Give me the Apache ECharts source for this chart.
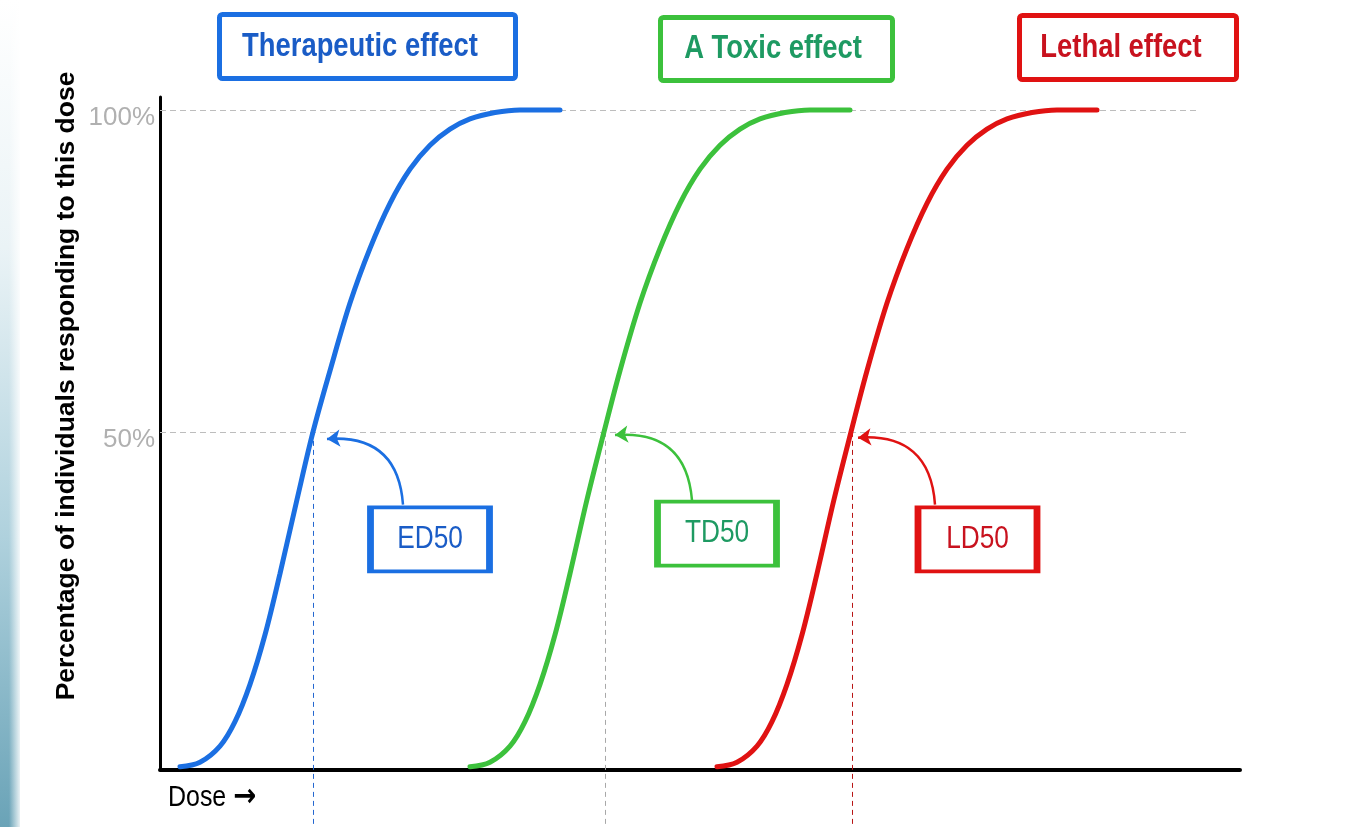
<!DOCTYPE html>
<html>
<head>
<meta charset="utf-8">
<title>Dose response curves</title>
<script src="https://cdn.jsdelivr.net/npm/echarts@6/dist/echarts.min.js"></script>
<style>
  html, body { margin: 0; padding: 0; background: #fff; }
  #chart { width: 1371px; height: 827px; }
</style>
</head>
<body>
<div id="chart"></div>
<script>
// [dose, % of individuals responding]
const therapeuticCurve = [[2.0, -2], [4.0, -1.3], [6.0, 1.2], [7.5, 5.0], [9.0, 10.8], [10.5, 18.5], [12.0, 28.0], [13.7, 39.5],
  [15.3, 50], [17.0, 59.5], [19.0, 70], [21.0, 78.5], [23.0, 85.5], [25.0, 90.8], [27.0, 94.5], [29.0, 97.0],
  [31.0, 98.6], [33.5, 99.6], [36.0, 100], [40.0, 100]]
const toxicCurve = [[31.0, -2], [33.0, -1.3], [35.0, 1.2], [36.5, 5.0], [38.0, 10.8], [39.5, 18.5], [41.0, 28.0], [42.7, 39.5],
  [44.4, 50], [46.0, 59.5], [48.0, 70], [50.0, 78.5], [52.0, 85.5], [54.0, 90.8], [56.0, 94.5], [58.0, 97.0],
  [60.0, 98.6], [62.5, 99.6], [65.0, 100], [69.0, 100]]
const lethalCurve = [[55.7, -2], [57.7, -1.3], [59.7, 1.2], [61.2, 5.0], [62.7, 10.8], [64.2, 18.5], [65.7, 28.0], [67.4, 39.5],
  [69.1, 50], [70.7, 59.5], [72.7, 70], [74.7, 78.5], [76.7, 85.5], [78.7, 90.8], [80.7, 94.5], [82.7, 97.0],
  [84.7, 98.6], [87.2, 99.6], [89.7, 100], [93.7, 100]]

const effectNames = ['Therapeutic effect', 'A Toxic effect', 'Lethal effect']
const d50Names = ['ED50', 'TD50', 'LD50']
const d50Dose = [15.3, 44.5, 69.2]
const d50Boxes = [[27.0, 33.3], [55.7, 34.2], [81.75, 33.3]]
const arrowFrom = [[24.3, 38.7], [53.2, 39.4], [77.5, 38.7]]
const arrowTo = [[16.7, 48.9], [45.5, 49.5], [69.8, 49.1]]
const yTickValues = [50, 100]
const gridLineEnds = [102.8, 103.6]

const curves = [therapeuticCurve, toxicCurve, lethalCurve]
const lineColors = ['#1b6fe2', '#3cc13c', '#e01212']
const textColors = ['#1a5cc6', '#1e9a62', '#c8121e']
const dropColors = ['#2467d0', '#a8a8a8', '#b81515']
const sans = "'Liberation Sans', Arial, sans-serif"

const chart = echarts.init(document.getElementById('chart'))

const series = [{
  type: 'lines',
  coordinateSystem: 'cartesian2d',
  silent: true,
  z: 1,
  lineStyle: { color: '#bdbdbd', width: 1, type: [6, 4], opacity: 1 },
  data: yTickValues.map((v, i) => ({ coords: [[0, v], [gridLineEnds[i], v]] }))
}]

curves.forEach((curve, i) => {
  // dashed drop line at the 50% dose, runs past the axis
  series.push({
    type: 'lines',
    coordinateSystem: 'cartesian2d',
    clip: false,
    silent: true,
    z: 2,
    lineStyle: { color: dropColors[i], width: 1, type: [5, 4], opacity: 1 },
    data: [{ coords: [[d50Dose[i], 50], [d50Dose[i], -11.5]] }]
  })
  series.push({
    name: effectNames[i],
    type: 'line',
    data: curve,
    smooth: 0.35,
    symbol: 'none',
    z: 3,
    lineStyle: { color: lineColors[i], width: 5, cap: 'round' }
  })
  // curved pointer from the label box to the 50% point
  series.push({
    type: 'lines',
    coordinateSystem: 'cartesian2d',
    clip: false,
    silent: true,
    z: 4,
    symbol: ['none', 'arrow'],
    symbolSize: [9, 13],
    lineStyle: { color: lineColors[i], width: 2.5, curveness: -0.5, opacity: 1 },
    data: [{ coords: [arrowFrom[i], arrowTo[i]] }]
  })
  // label box, text is added after layout so it can be condensed
  series.push({
    type: 'scatter',
    clip: false,
    silent: true,
    z: 5,
    symbol: 'rect',
    symbolSize: [119, 64],
    itemStyle: { color: '#fff', borderColor: lineColors[i], borderWidth: 5, opacity: 1 },
    data: [d50Boxes[i]]
  })
})

chart.setOption({
  animation: false,
  backgroundColor: '#fff',
  grid: { left: 160, right: 131, top: 97, bottom: 57 },
  xAxis: {
    type: 'value',
    min: 0,
    max: 108,
    axisLine: { show: true, onZero: false, lineStyle: { color: '#000', width: 4 } },
    axisTick: { show: false },
    axisLabel: { show: false },
    splitLine: { show: false }
  },
  yAxis: {
    type: 'value',
    min: -2.5,
    max: 102,
    axisLine: { show: true, lineStyle: { color: '#000', width: 3 } },
    axisTick: { show: false },
    splitLine: { show: false },
    axisLabel: {
      customValues: yTickValues,
      formatter: '{p|{value}%}',
      margin: 5,
      rich: { p: { color: '#b0b0b0', fontSize: 26, fontFamily: sans, padding: [15, 0, 0, 0] } }
    }
  },
  series: series
})

// header boxes: rect x, y, w, h, text centre x, y
const headerBoxes = [[219.5, 14.5, 296, 64, 360, 47], [660.5, 17.5, 232, 63, 773, 49], [1019.5, 15.5, 217, 64, 1121, 47.5]]
const graphics = [{
  type: 'rect',
  shape: { x: 0, y: 0, width: 20, height: 827 },
  silent: true,
  style: {
    fill: new echarts.graphic.LinearGradient(0, 0, 0, 1, [
      { offset: 0, color: '#ffffff' },
      { offset: 0.3, color: '#eaf3f6' },
      { offset: 0.65, color: '#afd1dd' },
      { offset: 1, color: '#6aa3b7' }
    ])
  }
}, {
  type: 'rect',
  shape: { x: 9, y: 0, width: 13, height: 827 },
  silent: true,
  style: {
    fill: new echarts.graphic.LinearGradient(0, 0, 1, 0, [
      { offset: 0, color: 'rgba(255,255,255,0)' },
      { offset: 1, color: '#ffffff' }
    ])
  }
}, {
  type: 'text',
  x: 67,
  y: 386,
  rotation: Math.PI / 2,
  style: {
    text: 'Percentage of individuals responding to this dose',
    fontFamily: sans,
    fontWeight: 'bold',
    fontSize: 26.5,
    fill: '#000',
    align: 'center',
    verticalAlign: 'middle'
  }
}, {
  type: 'text',
  x: 168,
  y: 798,
  scaleX: 0.86,
  style: {
    text: 'Dose {b|\u2192}',
    fontFamily: sans,
    fontSize: 29,
    fill: '#000',
    align: 'left',
    verticalAlign: 'middle',
    rich: { b: { fontSize: 32, fontWeight: 'bold', fontFamily: "'DejaVu Sans', sans-serif", fill: '#000' } }
  }
}]
headerBoxes.forEach((b, i) => {
  graphics.push({
    type: 'rect',
    shape: { x: b[0], y: b[1], width: b[2], height: b[3], r: 3 },
    style: { fill: '#fff', stroke: lineColors[i], lineWidth: 5 }
  })
  graphics.push({
    type: 'text',
    x: b[4],
    y: b[5],
    scaleX: 0.83,
    style: {
      text: effectNames[i],
      fontFamily: sans,
      fontWeight: 'bold',
      fontSize: 33,
      fill: textColors[i],
      align: 'center',
      verticalAlign: 'middle'
    }
  })
})
// condensed label text placed on the data-anchored boxes
d50Boxes.forEach((p, i) => {
  const px = chart.convertToPixel({ gridIndex: 0 }, p)
  graphics.push({
    type: 'text',
    x: px[0],
    y: px[1],
    scaleX: 0.82,
    z: 100,
    style: {
      text: d50Names[i],
      fontFamily: sans,
      fontSize: 32,
      fill: textColors[i],
      align: 'center',
      verticalAlign: 'middle'
    }
  })
})

chart.setOption({ graphic: graphics })
</script>
</body>
</html>
